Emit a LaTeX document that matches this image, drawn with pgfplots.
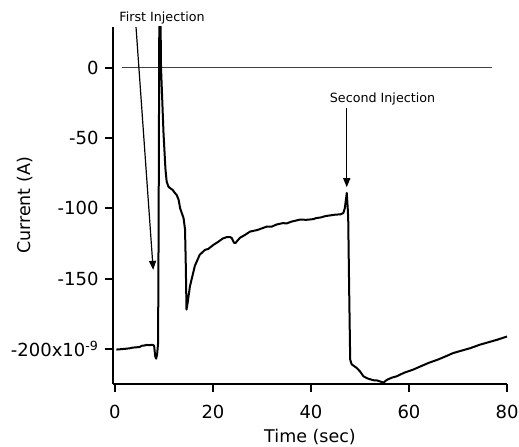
\documentclass[border=0pt]{standalone}
\usepackage{pgfplots}
\pgfplotsset{compat=1.18}
\usepackage{fontspec}
\setmainfont{DejaVu Sans}
\usetikzlibrary{arrows.meta}
\begin{document}
\begin{tikzpicture}
\begin{axis}[
  scale only axis,
  width=394pt, height=357pt,
  xmin=-0.4, xmax=80, ymin=-225, ymax=29,
  axis lines=left,
  axis line style={-, black, line width=1.8pt},
  tick style={black, line width=1.8pt},
  tick align=outside, major tick length=8pt,
  xtick={0,20,40,60,80},
  xticklabels={0,20,40,60,80},
  ytick={-200,-150,-100,-50,0},
  yticklabels={{-200x10\textsuperscript{-9}},-150,-100,-50,0},
  tick label style={font=\fontsize{18}{20}\selectfont},
  xticklabel style={yshift=-10pt},
  yticklabel style={xshift=-3pt},
  xlabel={Time (sec)},
  ylabel={Current (A)},
  label style={font=\fontsize{17.5}{20}\selectfont},
  xlabel style={at={(axis description cs:0.5,-0.1476)}, anchor=center},
  ylabel style={at={(axis description cs:-0.2234,0.5)}, anchor=center},
  clip mode=individual,
]
\addplot[black!75, line width=0.9pt] coordinates {(1.4,0) (77,0)};
\addplot[black, line width=2pt, line join=round] coordinates {
(0.3,-200.5) (1,-200.3) (2,-200) (3,-199.6) (3.5,-199.2) (4,-199) (5,-198.7) (5.5,-197.8) (6,-197.6)
(6.5,-197.2) (7,-197.4) (7.5,-197.1) (7.8,-197.3) (8,-198) (8.2,-205) (8.4,-207) (8.6,-204)
(8.8,-196) (8.9,-120) (9.0,-20) (9.05,35) (9.3,35) (9.4,0) (9.9,-46) (10.3,-72) (10.55,-81)
(10.9,-84.5) (11.2,-85.5) (11.8,-87) (12.2,-89) (12.6,-90.5) (13.0,-94) (13.3,-100) (14.0,-107)
(14.3,-115) (14.45,-140) (14.6,-172) (14.8,-168) (15.3,-155.5) (16.3,-141) (17.3,-133)
(18.4,-129.5) (19,-129) (20.1,-126) (21,-124) (22,-121.5) (22.8,-120.5) (23.5,-120.5)
(23.8,-121) (24.3,-124.5) (24.6,-124.7) (25.0,-123) (25.5,-121) (26.5,-119) (27.6,-116.5)
(29,-115.5) (31,-113) (32,-113) (33,-111.5) (34.3,-110.5) (35,-110.8) (36,-109.5) (37.8,-108)
(39,-108.2) (40.5,-107.7) (41,-107) (42,-106.5) (43,-105.5) (44,-105) (45,-104.5) (46,-104.3)
(46.6,-103.4) (46.9,-100) (47.2,-92) (47.3,-89) (47.5,-100) (47.6,-108) (47.8,-160) (48,-207.6)
(48.3,-211) (49.3,-213.5) (50,-216) (50.7,-219.5) (51.5,-221) (52.7,-222.3) (53.5,-222.5)
(54.8,-224) (55.5,-222) (56.5,-220.5) (57.5,-219.5) (59,-217) (60.9,-214.7) (62,-213) (64,-210)
(66,-207.5) (67.7,-205) (69,-203) (71,-201) (72.5,-199.5) (74.5,-197) (76,-195.5) (78,-193.5)
(80,-191.2)};
\addplot[black, line width=2pt, clip=false, forget plot] coordinates {(0,-225) (0,-230.8)};
\addplot[black, line width=2pt, clip=false, forget plot] coordinates {(20,-225) (20,-230.8)};
\addplot[black, line width=2pt, clip=false, forget plot] coordinates {(40,-225) (40,-230.8)};
\addplot[black, line width=2pt, clip=false, forget plot] coordinates {(60,-225) (60,-230.8)};
\addplot[black, line width=2pt, clip=false, forget plot] coordinates {(80,-225) (80,-230.8)};
\addplot[black, line width=2pt, clip=false, forget plot] coordinates {(-0.4,0) (-2.05,0)};
\addplot[black, line width=2pt, clip=false, forget plot] coordinates {(-0.4,-50) (-2.05,-50)};
\addplot[black, line width=2pt, clip=false, forget plot] coordinates {(-0.4,-100) (-2.05,-100)};
\addplot[black, line width=2pt, clip=false, forget plot] coordinates {(-0.4,-150) (-2.05,-150)};
\addplot[black, line width=2pt, clip=false, forget plot] coordinates {(-0.4,-200) (-2.05,-200)};
\coordinate (a1s) at (axis cs:4.3,28.9);
\coordinate (a1e) at (axis cs:7.8,-143.8);
\coordinate (a2s) at (axis cs:47.3,-28.7);
\coordinate (a2e) at (axis cs:47.3,-85);
\coordinate (t1) at (axis cs:9.6,35.5);
\coordinate (t2) at (axis cs:54.6,-22.4);
\end{axis}
\draw[black, line width=1.2pt, -{Triangle[length=9pt,width=7pt]}] (a1s) -- (a1e);
\draw[black, line width=1.2pt, -{Triangle[length=9pt,width=7pt]}] (a2s) -- (a2e);
\node[font=\fontsize{12.7}{14}\selectfont, anchor=center] at (t1) {First Injection};
\node[font=\fontsize{12.7}{14}\selectfont, anchor=center] at (t2) {Second Injection};
\pgfresetboundingbox
\path[use as bounding box] (-113pt,-62.7pt) rectangle (406pt,384pt);
\end{tikzpicture}
\end{document}
